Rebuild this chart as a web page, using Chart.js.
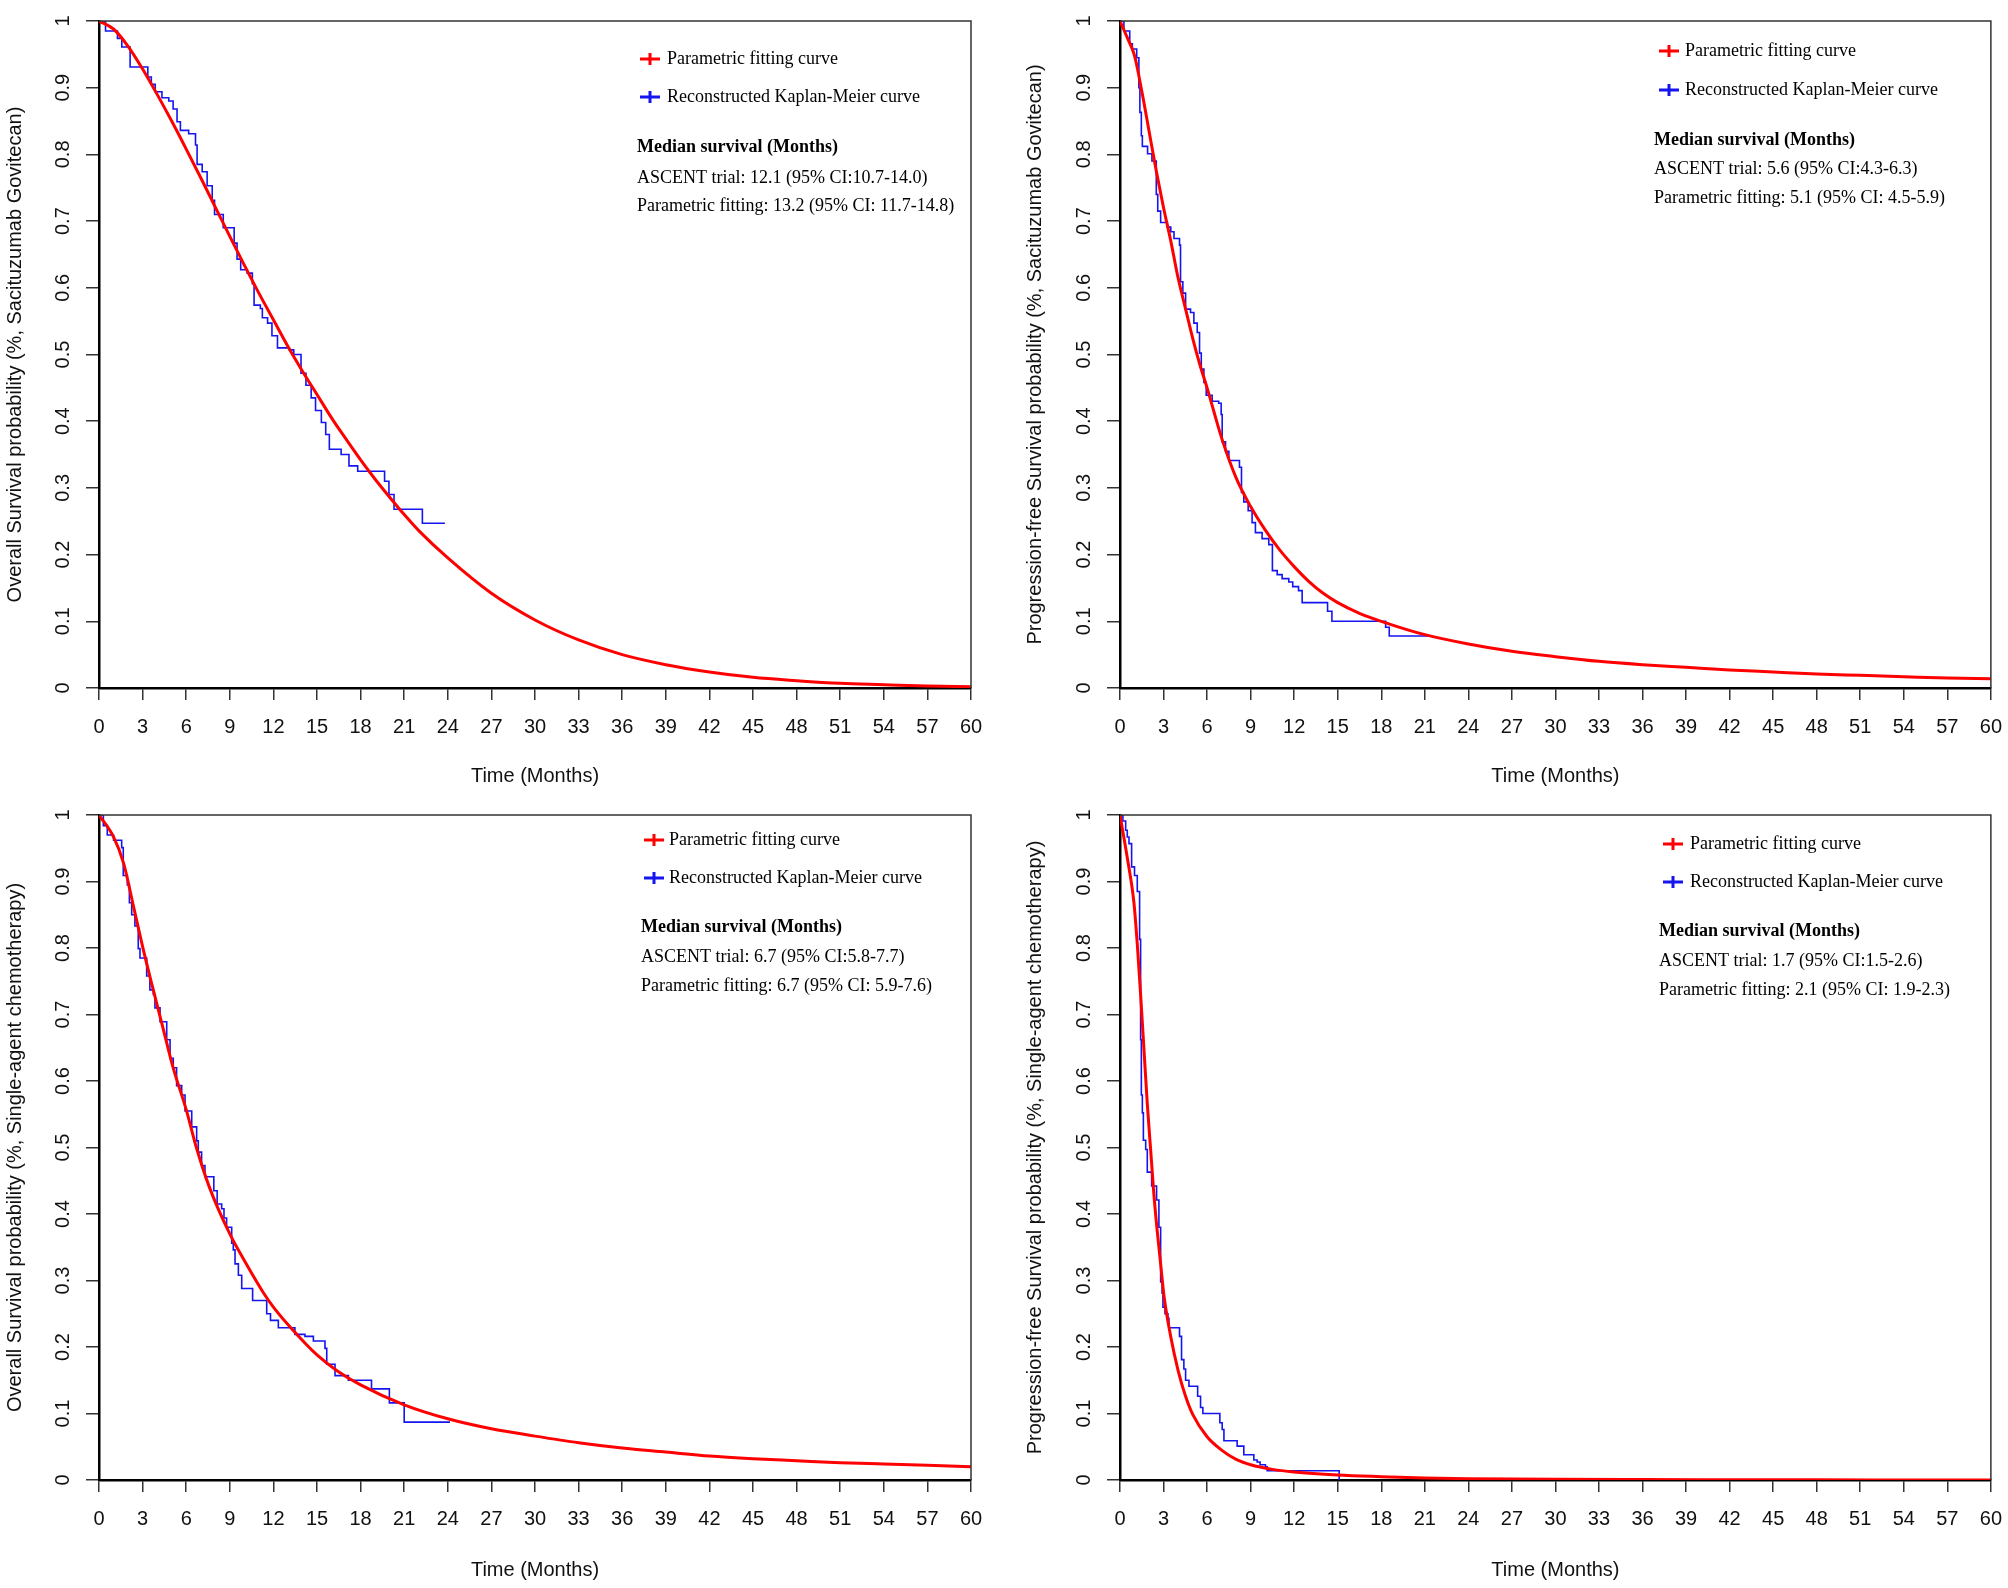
<!DOCTYPE html>
<html lang="en">
<head>
<meta charset="UTF-8">
<title>Parametric fitting vs reconstructed Kaplan-Meier curves</title>
<script src="https://cdn.jsdelivr.net/npm/chart.js"></script>
<style>
  body { margin: 0; background: #fff; }
  #wrap { position: relative; width: 2008px; height: 1588px; }
  #wrap canvas { position: absolute; }
</style>
</head>
<body>
<div id="wrap">
  <canvas id="osSg" width="1004" height="794" style="left:0;top:0"></canvas>
  <canvas id="pfsSg" width="1004" height="794" style="left:1004px;top:0"></canvas>
  <canvas id="osChemo" width="1004" height="794" style="left:0;top:794px"></canvas>
  <canvas id="pfsChemo" width="1004" height="794" style="left:1004px;top:794px"></canvas>
</div>
<script>
// axis ticks
const xTicks = [0, 3, 6, 9, 12, 15, 18, 21, 24, 27, 30, 33, 36, 39, 42, 45, 48, 51, 54, 57, 60];
const yTicks = [0, 0.1, 0.2, 0.3, 0.4, 0.5, 0.6, 0.7, 0.8, 0.9, 1];
const yTickLabels = ['0', '0.1', '0.2', '0.3', '0.4', '0.5', '0.6', '0.7', '0.8', '0.9', '1'];
const legendLabels = ['Parametric fitting curve', 'Reconstructed Kaplan-Meier curve'];

// OS, sacituzumab govitecan
const osSgKmTime = [0, 0.45, 1.27, 1.57, 2.14, 3.36, 3.6, 3.87, 4.33, 4.8, 5.1, 5.37, 5.6, 6.17, 6.64, 6.75, 7.1, 7.44, 7.79, 7.95, 8.55, 9.3, 9.5, 9.75, 10.2, 10.55, 10.67, 11.1, 11.24, 11.6, 11.9, 12.28, 13.1, 13.4, 13.9, 14.24, 14.6, 14.9, 15.3, 15.6, 15.85, 16.66, 17.2, 17.8, 19.65, 19.95, 20.3, 22.25, 23.8];
const osSgKmSurv = [1, 0.985, 0.974, 0.961, 0.931, 0.916, 0.905, 0.894, 0.885, 0.88, 0.868, 0.849, 0.836, 0.831, 0.814, 0.785, 0.774, 0.753, 0.731, 0.71, 0.69, 0.667, 0.643, 0.627, 0.622, 0.606, 0.574, 0.569, 0.555, 0.547, 0.528, 0.51, 0.507, 0.5, 0.472, 0.454, 0.435, 0.416, 0.398, 0.38, 0.358, 0.35, 0.333, 0.325, 0.31, 0.29, 0.268, 0.247, 0.247];
const osSgFitTime = [0, 1, 2, 3, 4, 5, 6, 7, 8, 9, 10, 11, 12, 13, 14, 15, 16, 17, 18, 19, 20, 21, 22, 24, 27, 30, 33, 36, 39, 42, 45, 48, 51, 54, 57, 60];
const osSgFitSurv = [1, 0.988, 0.962, 0.928, 0.89, 0.85, 0.808, 0.765, 0.721, 0.677, 0.634, 0.592, 0.552, 0.512, 0.475, 0.44, 0.405, 0.373, 0.342, 0.313, 0.286, 0.26, 0.236, 0.195, 0.142, 0.102, 0.072, 0.05, 0.035, 0.024, 0.016, 0.011, 0.007, 0.005, 0.003, 0.002];

// PFS, sacituzumab govitecan
const pfsSgKmTime = [0, 0.27, 0.67, 0.85, 1.15, 1.3, 1.37, 1.47, 1.54, 1.9, 2.2, 2.5, 2.6, 2.8, 3.26, 3.5, 3.72, 4.1, 4.17, 4.33, 4.52, 4.86, 5.09, 5.32, 5.48, 5.6, 5.78, 5.94, 6.35, 6.8, 6.97, 7.04, 7.27, 7.5, 8.23, 8.37, 8.53, 8.83, 9.1, 9.33, 9.79, 10.25, 10.5, 10.83, 11.17, 11.63, 11.9, 12.3, 12.55, 14.3, 14.6, 18.3, 18.55, 21.4];
const pfsSgKmSurv = [1, 0.985, 0.966, 0.958, 0.945, 0.9, 0.863, 0.828, 0.812, 0.801, 0.79, 0.74, 0.715, 0.698, 0.691, 0.684, 0.674, 0.664, 0.609, 0.592, 0.568, 0.563, 0.547, 0.533, 0.502, 0.478, 0.458, 0.439, 0.43, 0.427, 0.41, 0.369, 0.355, 0.341, 0.331, 0.293, 0.279, 0.266, 0.248, 0.233, 0.224, 0.215, 0.176, 0.17, 0.164, 0.159, 0.152, 0.146, 0.128, 0.115, 0.1, 0.091, 0.078, 0.078];
const pfsSgFitTime = [0, 0.5, 1, 1.5, 2, 2.5, 3, 3.5, 4, 4.5, 5, 5.5, 6, 7, 8, 9, 10, 11, 12, 13, 14, 15, 16.5, 18, 21, 24, 27, 30, 33, 36, 39, 42, 45, 48, 51, 54, 57, 60];
const pfsSgFitSurv = [1, 0.975, 0.948, 0.895, 0.835, 0.775, 0.72, 0.67, 0.615, 0.57, 0.525, 0.485, 0.45, 0.375, 0.315, 0.272, 0.237, 0.207, 0.182, 0.16, 0.142, 0.128, 0.112, 0.1, 0.08, 0.066, 0.055, 0.047, 0.04, 0.035, 0.031, 0.027, 0.024, 0.021, 0.019, 0.017, 0.015, 0.014];

// OS, single-agent chemotherapy
const osChemoKmTime = [0, 0.3, 0.57, 1.0, 1.56, 1.67, 1.95, 2.09, 2.25, 2.47, 2.7, 2.82, 3.28, 3.5, 3.74, 3.85, 4.2, 4.66, 4.89, 5.11, 5.34, 5.69, 5.92, 6.38, 6.72, 6.83, 7.06, 7.29, 7.9, 8.13, 8.44, 8.6, 8.78, 9.13, 9.24, 9.36, 9.59, 9.82, 10.57, 11.54, 11.8, 12.34, 13.48, 14.17, 14.75, 15.55, 15.67, 16.24, 17.16, 18.75, 19.98, 21.0, 24.15];
const osChemoKmSurv = [1, 0.984, 0.97, 0.962, 0.951, 0.909, 0.895, 0.868, 0.85, 0.833, 0.799, 0.785, 0.758, 0.737, 0.73, 0.71, 0.689, 0.662, 0.634, 0.62, 0.593, 0.579, 0.555, 0.531, 0.51, 0.493, 0.473, 0.456, 0.435, 0.415, 0.408, 0.394, 0.38, 0.356, 0.346, 0.325, 0.308, 0.288, 0.27, 0.25, 0.24, 0.229, 0.219, 0.216, 0.209, 0.198, 0.174, 0.157, 0.15, 0.137, 0.116, 0.087, 0.087];
const osChemoFitTime = [0, 1, 1.7, 2.4, 3, 3.7, 4.4, 5.1, 6, 6.7, 7.6, 9, 10, 11.3, 12, 13.4, 15, 16.4, 18, 21, 24, 27, 30, 33, 36, 39, 42, 45, 48, 51, 54, 57, 60];
const osChemoFitSurv = [1, 0.967, 0.927, 0.86, 0.802, 0.74, 0.68, 0.62, 0.557, 0.5, 0.44, 0.37, 0.33, 0.282, 0.26, 0.224, 0.188, 0.164, 0.143, 0.113, 0.092, 0.077, 0.066, 0.056, 0.048, 0.042, 0.036, 0.032, 0.029, 0.026, 0.024, 0.022, 0.02];

// PFS, single-agent chemotherapy
const pfsChemoKmTime = [0, 0.2, 0.39, 0.5, 0.62, 0.8, 1.0, 1.19, 1.35, 1.42, 1.47, 1.54, 1.61, 1.77, 1.88, 2.18, 2.52, 2.68, 2.8, 2.9, 2.96, 3.1, 3.3, 3.37, 4.1, 4.24, 4.4, 4.52, 4.75, 5.35, 5.55, 5.71, 6.88, 7.04, 7.16, 8.07, 8.53, 9.22, 9.45, 9.65, 10.02, 10.14, 15.1, 15.1];
const pfsChemoKmSurv = [1, 0.991, 0.977, 0.967, 0.957, 0.922, 0.909, 0.885, 0.813, 0.662, 0.579, 0.552, 0.511, 0.497, 0.463, 0.442, 0.421, 0.38, 0.298, 0.281, 0.26, 0.25, 0.243, 0.229, 0.216, 0.181, 0.167, 0.15, 0.141, 0.126, 0.109, 0.1, 0.086, 0.076, 0.059, 0.051, 0.038, 0.03, 0.027, 0.023, 0.02, 0.014, 0.014, 0];
const pfsChemoFitTime = [0, 0.5, 0.96, 1.19, 1.42, 1.65, 1.88, 2.11, 2.34, 2.57, 2.8, 3.03, 3.5, 4, 4.5, 5, 6, 7, 8, 9, 10.5, 12, 15, 18, 21, 24, 30, 36, 42, 48, 54, 60];
const pfsChemoFitSurv = [1, 0.936, 0.868, 0.806, 0.73, 0.648, 0.566, 0.497, 0.428, 0.373, 0.325, 0.277, 0.215, 0.165, 0.127, 0.099, 0.065, 0.045, 0.031, 0.023, 0.016, 0.012, 0.0075, 0.005, 0.003, 0.002, 0.001, 0.0006, 0.0004, 0.0002, 0.0001, 0];

const RED = '#ff0000';
const BLUE = '#1515f0';
const SANS = 'Liberation Sans, Arial, sans-serif';
const SERIF = 'Liberation Serif, Times New Roman, serif';

function pairs(t, s) {
  return t.map((x, i) => ({ x: x, y: s[i] }));
}

// box lines on top/right plus the in-plot legend and median notes
const notesPlugin = {
  id: 'notes',
  afterDraw(chart, args, o) {
    const ctx = chart.ctx;
    const a = chart.chartArea;
    ctx.save();
    ctx.strokeStyle = '#333';
    ctx.lineWidth = 1.5;
    ctx.beginPath();
    ctx.moveTo(a.left, a.top);
    ctx.lineTo(a.right, a.top);
    ctx.lineTo(a.right, a.bottom);
    ctx.stroke();

    ctx.textBaseline = 'middle';
    ctx.textAlign = 'left';
    ctx.fillStyle = '#000';
    const colors = [RED, BLUE];
    legendLabels.forEach((txt, i) => {
      const y = o.rows[i];
      ctx.strokeStyle = colors[i];
      ctx.lineWidth = 3;
      ctx.beginPath();
      ctx.moveTo(o.symX, y);
      ctx.lineTo(o.symX + 20, y);
      ctx.moveTo(o.symX + 10, y - 6);
      ctx.lineTo(o.symX + 10, y + 6);
      ctx.stroke();
      ctx.font = '18px ' + SERIF;
      ctx.fillText(txt, o.textX, y);
    });
    ctx.font = 'bold 18px ' + SERIF;
    ctx.fillText('Median survival (Months)', o.medX, o.rows[2]);
    ctx.font = '18px ' + SERIF;
    ctx.fillText(o.trial, o.medX, o.rows[3]);
    ctx.fillText(o.fit, o.medX, o.rows[4]);
    ctx.restore();
  }
};

function makePanel(id, p) {
  const axisFont = { family: SANS, size: 20 };
  new Chart(document.getElementById(id), {
    type: 'line',
    data: {
      datasets: [
        {
          label: legendLabels[0],
          data: pairs(p.fitT, p.fitS),
          borderColor: RED,
          borderWidth: 3,
          pointRadius: 0,
          cubicInterpolationMode: 'monotone',
          fill: false
        },
        {
          label: legendLabels[1],
          data: pairs(p.kmT, p.kmS),
          borderColor: BLUE,
          borderWidth: 1.6,
          pointRadius: 0,
          stepped: 'before',
          fill: false
        }
      ]
    },
    options: {
      responsive: false,
      animation: false,
      events: [],
      layout: { padding: { left: 0, top: p.top, right: 1004 - p.right, bottom: 0 } },
      plugins: {
        legend: { display: false },
        tooltip: { enabled: false },
        notes: p.notes
      },
      scales: {
        x: {
          type: 'linear',
          min: 0,
          max: 60,
          afterBuildTicks: s => { s.ticks = xTicks.map(v => ({ value: v })); },
          afterFit: s => { s.height = 794 - p.bottom; },
          grid: { drawOnChartArea: false, drawTicks: true, tickLength: 12, color: '#333', lineWidth: 1.5 },
          border: { display: true, color: '#000', width: 2.5 },
          // tall line height pushes labels down without widening the side padding
          ticks: { color: '#111', font: { family: SANS, size: 20, lineHeight: 2.1 }, padding: 6, maxRotation: 0, autoSkip: false, callback: v => String(v) },
          title: { display: true, text: 'Time (Months)', color: '#111', font: axisFont, padding: { top: 0, bottom: 6 } }
        },
        y: {
          type: 'linear',
          min: 0,
          max: 1,
          afterBuildTicks: s => { s.ticks = yTicks.map(v => ({ value: v })); },
          afterFit: s => { s.width = p.left; },
          grid: { drawOnChartArea: false, drawTicks: true, tickLength: 13, color: '#333', lineWidth: 1.5 },
          border: { display: true, color: '#000', width: 2.5 },
          ticks: { color: '#111', font: axisFont, padding: 9, minRotation: 90, maxRotation: 90, crossAlign: 'center', autoSkip: false, callback: (v, i) => yTickLabels[i] },
          title: { display: true, text: p.yTitle, color: '#111', font: axisFont, padding: { top: p.yTitlePad, bottom: 0 } }
        }
      }
    },
    plugins: [notesPlugin]
  });
}

makePanel('osSg', {
  kmT: osSgKmTime, kmS: osSgKmSurv, fitT: osSgFitTime, fitS: osSgFitSurv,
  left: 99, right: 971, top: 19, bottom: 688, yTitlePad: 3,
  yTitle: 'Overall Survival probability (%, Sacituzumab Govitecan)',
  notes: { symX: 640, textX: 667, medX: 637, rows: [59, 97, 147, 178, 206],
    trial: 'ASCENT trial: 12.1 (95% CI:10.7-14.0)', fit: 'Parametric fitting: 13.2 (95% CI: 11.7-14.8)' }
});

makePanel('pfsSg', {
  kmT: pfsSgKmTime, kmS: pfsSgKmSurv, fitT: pfsSgFitTime, fitS: pfsSgFitSurv,
  left: 116, right: 988, top: 19, bottom: 688, yTitlePad: 19,
  yTitle: 'Progression-free Survival probability (%, Sacituzumab Govitecan)',
  notes: { symX: 655, textX: 681, medX: 650, rows: [51, 90, 140, 169, 198],
    trial: 'ASCENT trial: 5.6 (95% CI:4.3-6.3)', fit: 'Parametric fitting: 5.1 (95% CI: 4.5-5.9)' }
});

makePanel('osChemo', {
  kmT: osChemoKmTime, kmS: osChemoKmSurv, fitT: osChemoFitTime, fitS: osChemoFitSurv,
  left: 99, right: 971, top: 18, bottom: 686, yTitlePad: 3,
  yTitle: 'Overall Survival probability (%, Single-agent chemotherapy)',
  notes: { symX: 644, textX: 669, medX: 641, rows: [46, 84, 133, 163, 192],
    trial: 'ASCENT trial: 6.7 (95% CI:5.8-7.7)', fit: 'Parametric fitting: 6.7 (95% CI: 5.9-7.6)' }
});

makePanel('pfsChemo', {
  kmT: pfsChemoKmTime, kmS: pfsChemoKmSurv, fitT: pfsChemoFitTime, fitS: pfsChemoFitSurv,
  left: 116, right: 988, top: 18, bottom: 686, yTitlePad: 19,
  yTitle: 'Progression-free Survival probability (%, Single-agent chemotherapy)',
  notes: { symX: 659, textX: 686, medX: 655, rows: [50, 88, 137, 167, 196],
    trial: 'ASCENT trial: 1.7 (95% CI:1.5-2.6)', fit: 'Parametric fitting: 2.1 (95% CI: 1.9-2.3)' }
});
</script>
</body>
</html>
